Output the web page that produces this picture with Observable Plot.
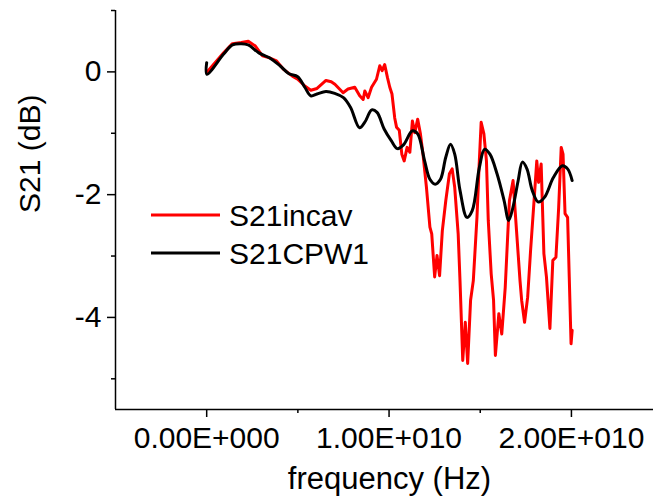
<!DOCTYPE html>
<html>
<head>
<meta charset="utf-8">
<script src="https://cdn.jsdelivr.net/npm/d3@7"></script>
<script src="https://cdn.jsdelivr.net/npm/@observablehq/plot@0.6"></script>
<style>
  html, body { margin: 0; padding: 0; background: #fff; }
  #chart { position: relative; width: 653px; height: 497px; overflow: hidden; }
</style>
</head>
<body>
<div id="chart"></div>
<script>
// Frequency in GHz, S21 in dB
const seriesNames = ["S21incav", "S21CPW1"];
const seriesColors = ["#ff0000", "#000000"];

const incavFreq = [0, 0.93, 1.41, 1.90, 2.28, 2.67, 3.06, 3.44, 3.83, 4.22, 4.70, 4.99, 5.38, 5.71, 6.05, 6.54, 6.83, 7.03, 7.48, 7.75, 8.12, 8.39, 8.58, 8.67, 8.85, 9.04, 9.31, 9.49, 9.62, 9.76, 9.91, 10.04, 10.16, 10.31, 10.41, 10.56, 10.70, 10.83, 10.99, 11.14, 11.28, 11.41, 11.57, 11.72, 11.86, 12.05, 12.24, 12.34, 12.50, 12.63, 12.77, 12.92, 13.11, 13.31, 13.46, 13.60, 13.79, 13.89, 14.04, 14.18, 14.31, 14.47, 14.62, 14.82, 14.95, 15.05, 15.20, 15.34, 15.44, 15.60, 15.73, 15.83, 16.02, 16.18, 16.37, 16.51, 16.60, 16.80, 16.99, 17.18, 17.27, 17.43, 17.60, 17.76, 17.95, 18.10, 18.20, 18.34, 18.49, 18.63, 18.82, 18.98, 19.15, 19.30, 19.44, 19.54, 19.65, 19.79, 19.88, 19.98, 20.04];
const incavS21 = [-0.01, 0.31, 0.46, 0.48, 0.50, 0.42, 0.26, 0.23, 0.18, 0.04, -0.07, -0.12, -0.23, -0.30, -0.27, -0.14, -0.16, -0.20, -0.34, -0.28, -0.25, -0.39, -0.45, -0.31, -0.42, -0.25, -0.12, 0.10, 0.02, 0.12, -0.09, -0.25, -0.36, -0.75, -0.90, -0.95, -1.34, -1.45, -1.23, -1.31, -0.80, -0.99, -0.77, -1.01, -1.34, -1.88, -2.53, -2.64, -3.34, -2.99, -3.32, -2.59, -2.10, -1.66, -1.58, -1.88, -2.64, -3.40, -4.70, -4.08, -4.75, -3.72, -3.40, -2.37, -1.45, -0.82, -1.01, -1.45, -2.42, -3.29, -3.72, -4.62, -3.94, -4.27, -3.51, -2.64, -2.10, -1.77, -2.59, -3.40, -3.72, -4.08, -3.67, -2.91, -2.10, -1.45, -1.80, -1.50, -2.96, -3.34, -4.18, -3.07, -3.02, -2.21, -1.23, -1.34, -2.31, -2.37, -3.34, -4.43, -4.21];

const cpwFreq = [0, 0.01, 0.93, 1.41, 1.90, 2.28, 2.86, 3.44, 4.02, 4.51, 4.99, 5.38, 5.71, 6.05, 6.54, 7.02, 7.50, 7.89, 8.38, 8.67, 9.05, 9.34, 9.73, 10.12, 10.46, 10.79, 11.28, 11.57, 11.95, 12.24, 12.53, 12.82, 13.11, 13.37, 13.60, 13.89, 14.27, 14.56, 14.95, 15.24, 15.53, 15.92, 16.31, 16.56, 16.79, 17.08, 17.31, 17.56, 17.85, 18.18, 18.53, 19.01, 19.50, 19.79, 20.04];
const cpwS21 = [0.15, -0.04, 0.29, 0.44, 0.46, 0.44, 0.31, 0.23, 0.10, -0.03, -0.08, -0.25, -0.39, -0.36, -0.32, -0.35, -0.42, -0.58, -0.91, -0.82, -0.62, -0.66, -0.93, -1.12, -1.25, -1.19, -0.96, -1.01, -1.45, -1.75, -1.83, -1.75, -1.39, -1.18, -1.34, -1.93, -2.37, -2.26, -1.56, -1.26, -1.34, -1.66, -2.10, -2.42, -2.21, -1.77, -1.47, -1.58, -1.93, -2.12, -2.04, -1.72, -1.53, -1.58, -1.77];

const xMajorTicks = [0, 1e10, 2e10];
const xMinorTicks = [0.5e10, 1.5e10];
const yMajorTicks = [0, -2, -4];
const yMinorTicks = [1, -1, -3, -5];

const incav = incavFreq.map((f, i) => ({f: f * 1e9, s: incavS21[i]}));
const cpw = cpwFreq.map((f, i) => ({f: f * 1e9, s: cpwS21[i]}));

function sci(v) {
  if (v === 0) return "0.00E+000";
  const e = Math.floor(Math.log10(Math.abs(v)));
  const m = v / Math.pow(10, e);
  return m.toFixed(2) + "E" + (e >= 0 ? "+" : "-") + String(Math.abs(e)).padStart(3, "0");
}

const FONT = "'Liberation Sans', Arial, sans-serif";

const chart = Plot.plot({
  width: 653,
  height: 497,
  marginLeft: 115,
  marginRight: 0,
  marginTop: 10,
  marginBottom: 88,
  x: {domain: [-0.5e10, 2.45e10]},
  y: {domain: [-5.5, 1]},
  style: {fontFamily: FONT, fontSize: "30px", color: "#000", background: "#fff"},
  marks: [
    Plot.axisX({ticks: xMajorTicks, tickFormat: sci, tickSize: 8, tickPadding: 9, fontSize: 30, label: null, strokeWidth: 1.5}),
    Plot.axisX({ticks: xMinorTicks, tickSize: 4, text: null, label: null, strokeWidth: 1.5}),
    Plot.axisY({ticks: yMajorTicks, tickFormat: d => String(d), tickSize: 8, tickPadding: 6, fontSize: 30, label: null, strokeWidth: 1.5}),
    Plot.axisY({ticks: yMinorTicks, tickSize: 4, text: null, label: null, strokeWidth: 1.5}),
    Plot.ruleY([-5.5], {stroke: "#000", strokeWidth: 1.5}),
    Plot.ruleX([-0.5e10], {stroke: "#000", strokeWidth: 1.5}),
    Plot.line(incav, {x: "f", y: "s", stroke: seriesColors[0], strokeWidth: 3, strokeLinejoin: "round"}),
    Plot.line(cpw, {x: "f", y: "s", stroke: seriesColors[1], strokeWidth: 3, strokeLinejoin: "round", curve: "catmull-rom"}),
    Plot.text(["frequency (Hz)"], {frameAnchor: "bottom", lineAnchor: "middle", dy: 70, dx: 5, fontSize: 31, fill: "#000"}),
    Plot.text(["S21 (dB)"], {frameAnchor: "left", lineAnchor: "middle", rotate: -90, dx: -85, dy: 3, fontSize: 30, fill: "#000"})
  ]
});

document.getElementById("chart").appendChild(chart);

// Legend
const svg = d3.select(chart);
const legend = svg.append("g").attr("font-family", FONT).attr("font-size", 30).attr("text-anchor", "start");
const legendRows = [215, 253];
seriesNames.forEach((name, i) => {
  const y = legendRows[i];
  legend.append("line").attr("x1", 151).attr("x2", 220).attr("y1", y).attr("y2", y)
    .attr("stroke", seriesColors[i]).attr("stroke-width", 3);
  legend.append("text").attr("x", 229).attr("y", y).attr("dy", "0.36em")
    .attr("text-anchor", "start").attr("fill", "#000").text(name);
});
</script>
</body>
</html>
